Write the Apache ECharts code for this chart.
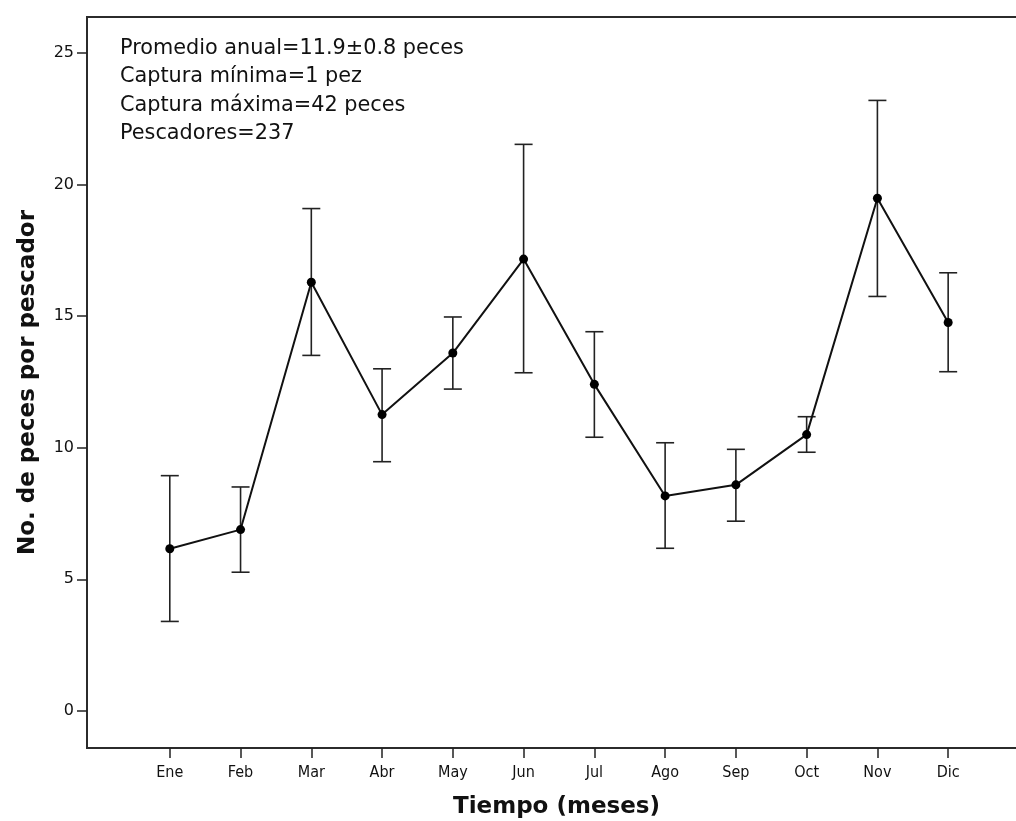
<!DOCTYPE html>
<html>
<head>
<meta charset="utf-8">
<script src="https://cdn.jsdelivr.net/npm/echarts@6/dist/echarts.min.js"></script>
<style>
html,body{margin:0;padding:0;background:#fff;}
#chart{width:1016px;height:821px;}
</style>
</head>
<body>
<div id="chart"></div>
<script>
const months = ['Ene','Feb','Mar','Abr','May','Jun','Jul','Ago','Sep','Oct','Nov','Dic'];
const means  = [6.16, 6.89, 16.29, 11.26, 13.60, 17.17, 12.41, 8.17, 8.59, 10.50, 19.48, 14.76];
const upper  = [8.94, 8.51, 19.09, 13.00, 14.97, 21.53, 14.41, 10.19, 9.94, 11.18, 23.20, 16.65];
const lower  = [3.40, 5.27, 13.51, 9.47, 12.23, 12.85, 10.40, 6.18, 7.21, 9.83, 15.75, 12.89];
const yTicks = [0, 5, 10, 15, 20, 25];
const notes = [
  'Promedio anual=11.9\u00b10.8 peces',
  'Captura m\u00ednima=1 pez',
  'Captura m\u00e1xima=42 peces',
  'Pescadores=237'
];

const monthIdx = months.map((m, i) => i);
const chart = echarts.init(document.getElementById('chart'), null, {renderer: 'canvas'});
const axisColor = '#2b2b2b';
const labelFont = "'DejaVu Sans Condensed','Liberation Sans Narrow','DejaVu Sans',sans-serif";

const option = {
  backgroundColor: '#ffffff',
  animation: false,
  grid: {
    left: 87, top: 17, right: -10, bottom: 73,
    show: true, borderColor: axisColor, borderWidth: 2,
    containLabel: false, outerBoundsMode: 'none'
  },
  xAxis: {
    type: 'value',
    min: -1.17, max: 12.1,
    name: 'Tiempo (meses)',
    nameLocation: 'middle',
    nameGap: 48,
    nameTextStyle: {fontFamily: "'DejaVu Sans',sans-serif", fontWeight: 'bold', fontSize: 23, color: '#111'},
    splitLine: {show: false},
    axisLine: {show: true, onZero: false, lineStyle: {color: axisColor, width: 2}},
    axisTick: {show: true, customValues: monthIdx, length: 10, lineStyle: {color: '#222', width: 1.5}},
    axisLabel: {
      customValues: monthIdx, margin: 17,
      fontFamily: labelFont, fontSize: 16, color: '#111',
      formatter: v => months[Math.round(v)] || ''
    }
  },
  yAxis: {
    type: 'value',
    min: -1.41, max: 26.37,
    name: 'No. de peces por pescador',
    nameLocation: 'middle',
    nameGap: 47,
    nameRotate: 90,
    nameTextStyle: {fontFamily: "'DejaVu Sans',sans-serif", fontWeight: 'bold', fontSize: 23, color: '#111'},
    splitLine: {show: false},
    axisLine: {show: true, onZero: false, lineStyle: {color: axisColor, width: 2}},
    axisTick: {show: true, customValues: yTicks, length: 10, lineStyle: {color: '#222', width: 1.5}},
    axisLabel: {
      customValues: yTicks, margin: 13,
      fontFamily: "'DejaVu Sans',sans-serif", fontSize: 16, color: '#111'
    }
  },
  graphic: notes.map((t, i) => ({
    type: 'text',
    left: 120,
    top: 38 + i * 28.5,
    style: {text: t, fontFamily: "'DejaVu Sans',sans-serif", fontSize: 20.8, fill: '#111'}
  })),
  series: [
    {
      type: 'custom',
      z: 1,
      data: months.map((m, i) => [i, lower[i], upper[i]]),
      encode: {x: 0, y: [1, 2]},
      renderItem: function (params, api) {
        const lo = api.coord([api.value(0), api.value(1)]);
        const hi = api.coord([api.value(0), api.value(2)]);
        const hw = 9;
        const st = {stroke: '#222', lineWidth: 1.6};
        return {
          type: 'group',
          children: [
            {type: 'line', shape: {x1: lo[0], y1: lo[1], x2: hi[0], y2: hi[1]}, style: st},
            {type: 'line', shape: {x1: hi[0] - hw, y1: hi[1], x2: hi[0] + hw, y2: hi[1]}, style: st},
            {type: 'line', shape: {x1: lo[0] - hw, y1: lo[1], x2: lo[0] + hw, y2: lo[1]}, style: st}
          ]
        };
      }
    },
    {
      type: 'line',
      z: 2,
      data: months.map((m, i) => [i, means[i]]),
      symbol: 'circle',
      symbolSize: 9,
      itemStyle: {color: '#000'},
      lineStyle: {color: '#111', width: 2}
    }
  ]
};
chart.setOption(option);
</script>
</body>
</html>
